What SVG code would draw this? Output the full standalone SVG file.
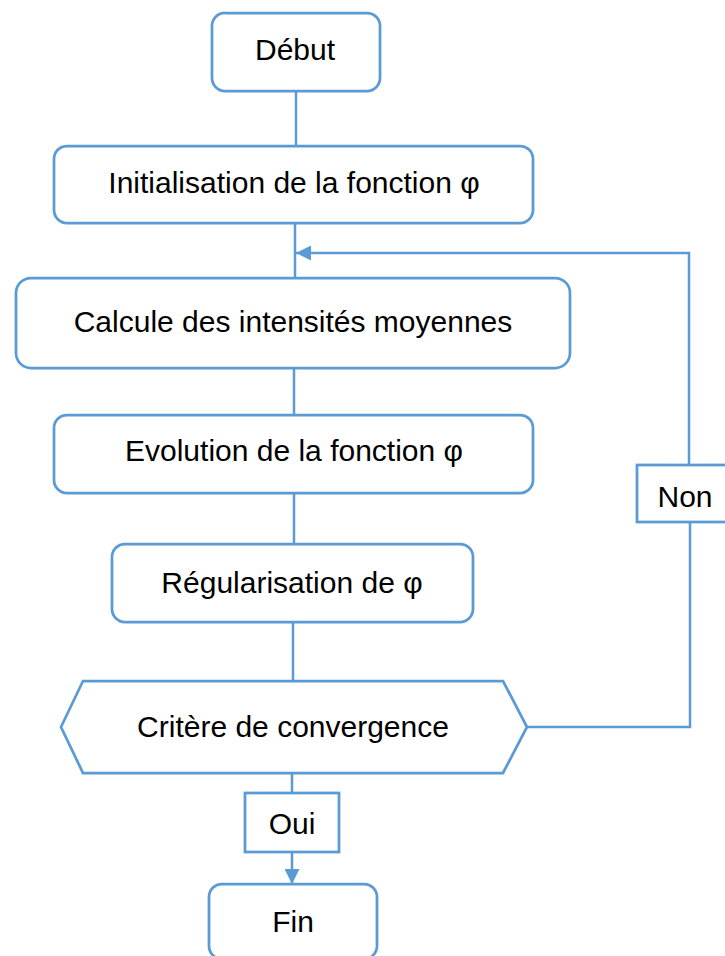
<svg xmlns="http://www.w3.org/2000/svg" width="725" height="956" viewBox="0 0 725 956">
  <style>
    .box { fill: #ffffff; stroke: #5B9BD5; stroke-width: 2.75; }
    .conn { fill: none; stroke: #5B9BD5; stroke-width: 2.5; }
    .lbl { font-family: "Liberation Sans", Arial, sans-serif; font-size: 30px; fill: #000000; text-anchor: middle; }
  </style>
  <defs>
    <marker id="arrow" viewBox="0 0 15 15" refX="15" refY="7.5" markerWidth="15" markerHeight="15" markerUnits="userSpaceOnUse" orient="auto">
      <path d="M0,0 L15,7.5 L0,15 Z" fill="#5B9BD5"/>
    </marker>
  </defs>
  <rect width="725" height="956" fill="#ffffff"/>

  <g id="connectors">
    <line class="conn" x1="296" y1="91" x2="296" y2="146"/>
    <line class="conn" x1="295" y1="223" x2="295" y2="278"/>
    <line class="conn" x1="294" y1="368" x2="294" y2="415"/>
    <line class="conn" x1="294" y1="493" x2="294" y2="544"/>
    <line class="conn" x1="293" y1="622" x2="293" y2="681"/>
    <line class="conn" x1="292" y1="773" x2="292" y2="793"/>
    <line class="conn" x1="292" y1="852" x2="292" y2="884" marker-end="url(#arrow)"/>
    <polyline class="conn" points="527,727 690,727 690,522"/>
    <polyline class="conn" points="689,465 689,253 296,253" marker-end="url(#arrow)"/>
  </g>

  <g id="debut">
    <rect class="box" x="212" y="13" width="168" height="78" rx="13"/>
    <text class="lbl" x="295" y="60">Début</text>
  </g>
  <g id="init">
    <rect class="box" x="54" y="146" width="479" height="77" rx="13"/>
    <text class="lbl" x="294" y="193">Initialisation de la fonction φ</text>
  </g>
  <g id="calcule">
    <rect class="box" x="16" y="278" width="554" height="90" rx="15"/>
    <text class="lbl" x="293" y="332">Calcule des intensités moyennes</text>
  </g>
  <g id="evolution">
    <rect class="box" x="54" y="415" width="479" height="78" rx="13"/>
    <text class="lbl" x="294" y="461">Evolution de la fonction φ</text>
  </g>
  <g id="regularisation">
    <rect class="box" x="112" y="544" width="361" height="78" rx="13"/>
    <text class="lbl" x="292" y="593">Régularisation de φ</text>
  </g>
  <g id="critere">
    <polygon class="box" points="61,727 83,681 503,681 527,727 503,773 83,773"/>
    <text class="lbl" x="293" y="737">Critère de convergence</text>
  </g>
  <g id="non">
    <rect class="box" x="637" y="465" width="96" height="57"/>
    <text class="lbl" x="685" y="507">Non</text>
  </g>
  <g id="oui">
    <rect class="box" x="245" y="793" width="94" height="59"/>
    <text class="lbl" x="292" y="834">Oui</text>
  </g>
  <g id="fin">
    <rect class="box" x="209" y="884" width="168" height="75" rx="13"/>
    <text class="lbl" x="293" y="932">Fin</text>
  </g>
</svg>
